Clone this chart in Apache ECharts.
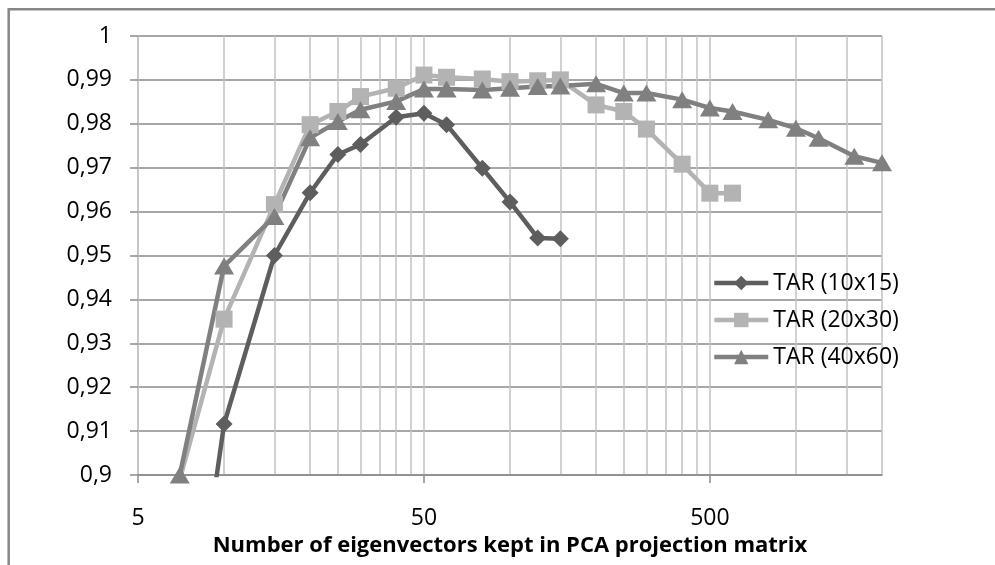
<!DOCTYPE html>
<html><head><meta charset="utf-8">
<script src="https://cdn.jsdelivr.net/npm/echarts@6/dist/echarts.min.js"></script>
<style>html,body{margin:0;padding:0;background:#fff}#c{width:995px;height:565px}</style>
</head><body><div id="c"></div>
<script>
// ---- data ----
const xValues = [7,10,15,20,25,30,40,50,60,80,100,125,150,200,250,300,400,500,600,800,1000,1200,1600,2000];
const tar10x15 = [0.841,0.9116,0.9500,0.9643,0.9730,0.9753,0.9815,0.9824,0.9798,0.9699,0.9622,0.9540,0.9538];
const tar20x30 = [0.899,0.9355,0.9616,0.9798,0.9828,0.9862,0.9881,0.9911,0.9906,0.9902,0.9896,0.9898,0.9900,0.9843,0.9828,0.9788,0.9708,0.9642,0.9642];
const tar40x60 = [0.900,0.9476,0.9589,0.9768,0.9805,0.9832,0.9851,0.9879,0.9879,0.9877,0.9881,0.9885,0.9886,0.9891,0.9870,0.9870,0.9855,0.9836,0.9828,0.9809,0.9790,0.9767,0.9726,0.9711];
const seriesNames = ['TAR (10x15)','TAR (20x30)','TAR (40x60)'];
const xGridValues = [5,10,15,20,25,30,35,40,45,50,100,150,200,250,300,350,400,450,500,1000,1500,2000];
const xLabelValues = [5,50,500];
const yMin = 0.9, yMax = 1, yStep = 0.01;
const xMin = 5, xMax = 2000;
const xAxisTitle = 'Number of eigenvectors kept in PCA projection matrix';

// ---- chart ----
const FONT = 'Open Sans';
function pairs(vals){ return vals.map((v,i)=>[xValues[i], v]); }
const colors = ['#5e5e5e','#b3b3b3','#808080'];
const symbols = ['diamond','rect','triangle'];
const sizes = [17, 17, [20,17]];
const dataSets = [tar10x15, tar20x30, tar40x60];

const chart = echarts.init(document.getElementById('c'), null, {renderer:'canvas'});
chart.setOption({
  animation:false,
  backgroundColor:'#ffffff',
  textStyle:{fontFamily:FONT},
  graphic:[{type:'rect', silent:true, z:-10,
    shape:{x:8.7, y:9.3, width:1200, height:900},
    style:{fill:'none', stroke:'#878787', lineWidth:2.5}}],
  grid:{left:138, right:113, top:36, bottom:90, containLabel:false},
  legend:{
    orient:'vertical', left:712, top:271, padding:0,
    itemWidth:54, itemHeight:18, itemGap:13,
    lineStyle:{width:4.5},
    textStyle:{fontFamily:FONT, fontSize:23, color:'#000', lineHeight:24},
    data:seriesNames
  },
  xAxis:[{
    type:'log', logBase:10, min:xMin, max:xMax,
    name:xAxisTitle, nameLocation:'middle', nameGap:60,
    nameTextStyle:{fontFamily:FONT, fontSize:22, fontWeight:'bold', color:'#000'},
    axisLine:{show:true, lineStyle:{color:'#8a8a8a', width:1.5}},
    axisTick:{show:false, customValues:xGridValues},
    axisLabel:{customValues:xLabelValues, margin:32, fontFamily:FONT, fontSize:23, color:'#000',
      formatter:v=>String(Math.round(v))},
    splitLine:{show:true, lineStyle:{color:'#c2c2c2', width:1.5}}
  },{
    type:'log', logBase:10, min:xMin, max:xMax, position:'bottom',
    axisLine:{show:false},
    axisTick:{show:true, customValues:xLabelValues, length:8, lineStyle:{color:'#8a8a8a', width:1.5}},
    axisLabel:{show:false},
    splitLine:{show:false}
  }],
  yAxis:{
    type:'value', min:yMin, max:yMax, interval:yStep,
    axisLine:{show:true, lineStyle:{color:'#c2c2c2', width:1.5}},
    axisTick:{show:true, length:8, lineStyle:{color:'#8a8a8a', width:1.5}},
    axisLabel:{margin:26, fontFamily:FONT, fontSize:23, color:'#000',
      formatter:v=>String(+v.toFixed(2)).replace('.', ',')},
    splitLine:{show:true, lineStyle:{color:'#8a8a8a', width:1.5}}
  },
  series:dataSets.map((d,i)=>({
    name:seriesNames[i], type:'line', xAxisIndex:0,
    data:pairs(d),
    symbol:symbols[i], symbolSize:sizes[i], showSymbol:true,
    lineStyle:{color:colors[i], width:4.5},
    itemStyle:{color:colors[i]},
    emphasis:{disabled:true},
    clip:true
  }))
});
</script></body></html>
